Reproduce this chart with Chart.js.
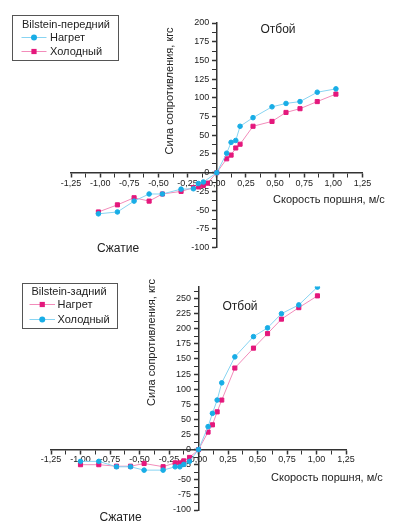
<!DOCTYPE html>
<html>
<head>
<meta charset="utf-8">
<script src="https://cdn.jsdelivr.net/npm/chart.js@4.4.1/dist/chart.umd.min.js"></script>
<style>
  html, body { margin: 0; padding: 0; background: #fff; }
  #wrap { position: relative; width: 396px; height: 532px; }
  canvas { position: absolute; left: 0; }
</style>
</head>
<body>
<div id="wrap">
  <canvas id="front" width="396" height="265" style="top:0"></canvas>
  <canvas id="rear" width="396" height="267" style="top:265px"></canvas>
</div>
<script>
// --- data (speed m/s, force kgf) ---
const frontSpeed = [-1.015, -0.852, -0.709, -0.58, -0.466, -0.306, -0.2, -0.158, -0.115, -0.08, 0,
  0.085, 0.123, 0.163, 0.2, 0.311, 0.474, 0.594, 0.714, 0.862, 1.022];
const frontHot = [-55, -52.5, -38, -28.5, -28.5, -22, -21.5, -14.5, -12.5, null, 0,
  26, 40.5, 43, 62, 73.5, 88, 92.5, 95, 107.5, 112];
const frontCold = [-52.5, -43, -33.5, -38, -28.5, -25, -20, -19, -17, -14, 0,
  18.5, 23.5, 33, 38, 62, 68.5, 80.5, 85.5, 95, 105];

const rearSpeed = [-1.0, -0.845, -0.695, -0.576, -0.461, -0.3, -0.198, -0.158, -0.125, -0.076, 0,
  0.081, 0.118, 0.158, 0.197, 0.308, 0.466, 0.585, 0.703, 0.85, 1.008];
const rearHot = [-25, -25, -27.5, -27.5, -23, -28.3, -22, -22, -18.7, -13, 0,
  29, 41, 62.5, 82, 135, 168, 192, 216, 235, 254.5];
const rearCold = [-19.5, -19.5, -28.5, -28.5, -34, -34, -28.5, -28.5, -24.5, -19.5, 0,
  38, 60, 82, 110.5, 153.5, 187, 201.5, 225, 239.5, 269];

const seriesNames = ['Нагрет', 'Холодный'];
const xTitle = 'Скорость поршня, м/с';
const yTitle = 'Сила сопротивления, кгс';

const BLUE = '#18ade6';
const BLUE_LINE = '#88d4f2';
const PINK = '#e4187c';
const PINK_LINE = '#f28cba';
const FONT = "'Liberation Sans', Arial, sans-serif";

function series(label, xs, ys, color, lineColor, style, order) {
  const data = [];
  xs.forEach((x, i) => {
    if (ys[i] !== null) data.push({ x, y: ys[i] });
  });
  return {
    label,
    data,
    order,
    borderColor: lineColor,
    backgroundColor: color,
    borderWidth: 1,
    pointStyle: style,
    pointRadius: style === 'rect' ? 2.9 : 2.3,
    pointBackgroundColor: color,
    pointBorderColor: color,
    pointBorderWidth: 1,
    tension: 0,
  };
}

const isMajor = (v, step) => Math.abs(v / step - Math.round(v / step)) < 1e-6;

function scales(yMax) {
  return {
    x: {
      type: 'linear',
      min: -1.25,
      max: 1.25,
      position: { y: 0 },
      afterFit: (s) => { s.height = 0; },
      border: { color: '#333', width: 1.5 },
      grid: {
        drawOnChartArea: false,
        tickLength: 4,
        tickColor: '#333',
        tickWidth: (c) => (isMajor(c.tick.value, 0.25) ? 1.5 : 1),
      },
      ticks: {
        stepSize: 0.125,
        autoSkip: false,
        maxRotation: 0,
        padding: 1,
        color: '#222',
        font: { family: FONT, size: 9 },
        callback: (v) => (isMajor(v, 0.25) ? v.toFixed(2).replace('.', ',') : ''),
      },
    },
    y: {
      type: 'linear',
      min: -100,
      max: yMax,
      position: { x: 0 },
      afterFit: (s) => { s.width = 0; },
      border: { color: '#333', width: 1.5 },
      grid: {
        drawOnChartArea: false,
        tickLength: 4,
        tickColor: '#333',
        tickWidth: (c) => (isMajor(c.tick.value, 25) ? 1.5 : 1),
      },
      ticks: {
        stepSize: 12.5,
        includeBounds: false,
        autoSkip: false,
        color: '#222',
        font: { family: FONT, size: 9 },
        // labels sit right on the axis, trailing spaces keep them clear of the tick marks
        callback: (v) => (isMajor(v, 25) ? `${v}   ` : ''),
      },
    },
  };
}

function drawMarker(ctx, style, x, y, color) {
  ctx.fillStyle = color;
  if (style === 'rect') {
    ctx.fillRect(x - 2.6, y - 2.6, 5.2, 5.2);
  } else {
    ctx.beginPath();
    ctx.arc(x, y, 3, 0, Math.PI * 2);
    ctx.fill();
  }
}

// legend box and free texts, drawn on top of the chart
function notesPlugin(n) {
  return {
    id: 'notes',
    afterDraw(chart) {
      const { ctx } = chart;
      ctx.save();
      ctx.fillStyle = '#fff';
      ctx.fillRect(n.box.x, n.box.y, n.box.w, n.box.h);
      ctx.strokeStyle = '#555';
      ctx.lineWidth = 1;
      ctx.strokeRect(n.box.x + 0.5, n.box.y + 0.5, n.box.w, n.box.h);

      ctx.font = `11px ${FONT}`;
      ctx.fillStyle = '#222';
      ctx.textBaseline = 'middle';
      ctx.textAlign = 'left';
      ctx.fillText(n.title, n.titleX, n.titleY);

      n.items.forEach((it) => {
        ctx.strokeStyle = it.line;
        ctx.beginPath();
        ctx.moveTo(n.lineX1, it.y);
        ctx.lineTo(n.lineX2, it.y);
        ctx.stroke();
        drawMarker(ctx, it.style, (n.lineX1 + n.lineX2) / 2, it.y, it.color);
        ctx.fillStyle = '#222';
        ctx.fillText(it.label, n.textX, it.y);
      });

      ctx.font = `12px ${FONT}`;
      ctx.textAlign = 'center';
      ctx.fillText('Отбой', n.rebound[0], n.rebound[1]);
      ctx.fillText('Сжатие', n.bump[0], n.bump[1]);

      ctx.font = `11px ${FONT}`;
      ctx.textAlign = 'left';
      ctx.fillText(xTitle, n.xTitle[0], n.xTitle[1]);

      ctx.translate(n.yTitle[0], n.yTitle[1]);
      ctx.rotate(-Math.PI / 2);
      ctx.textAlign = 'center';
      ctx.fillText(yTitle, 0, 0);
      ctx.restore();
    },
  };
}

function makeChart(id, datasets, yMax, padding, notes) {
  return new Chart(document.getElementById(id), {
    type: 'line',
    data: { datasets },
    options: {
      responsive: false,
      animation: false,
      devicePixelRatio: 1,
      layout: { padding },
      plugins: { legend: { display: false }, tooltip: { enabled: false } },
      scales: scales(yMax),
    },
    plugins: [notesPlugin(notes)],
  });
}

makeChart('front', [
  series(seriesNames[0], frontSpeed, frontHot, BLUE, BLUE_LINE, 'circle', 0),
  series(seriesNames[1], frontSpeed, frontCold, PINK, PINK_LINE, 'rect', 1),
], 200, { left: 71, right: 33.5, top: 23, bottom: 17.5 }, {
  box: { x: 12, y: 15, w: 106, h: 45 },
  title: 'Bilstein-передний',
  titleX: 22,
  titleY: 24.5,
  lineX1: 21.5,
  lineX2: 46.5,
  textX: 50,
  items: [
    { label: seriesNames[0], color: BLUE, line: BLUE_LINE, style: 'circle', y: 37.5 },
    { label: seriesNames[1], color: PINK, line: PINK_LINE, style: 'rect', y: 51.5 },
  ],
  rebound: [278, 29.5],
  bump: [118, 248.5],
  xTitle: [273, 199.5],
  yTitle: [170, 91],
});

makeChart('rear', [
  series(seriesNames[1], rearSpeed, rearCold, BLUE, BLUE_LINE, 'circle', 0),
  series(seriesNames[0], rearSpeed, rearHot, PINK, PINK_LINE, 'rect', 1),
], 270, { left: 51, right: 50, top: 21.5, bottom: 22 }, {
  box: { x: 22, y: 18, w: 95, h: 45 },
  title: 'Bilstein-задний',
  titleX: 31.5,
  titleY: 27,
  lineX1: 29.5,
  lineX2: 55,
  textX: 57.5,
  items: [
    { label: seriesNames[0], color: PINK, line: PINK_LINE, style: 'rect', y: 39.5 },
    { label: seriesNames[1], color: BLUE, line: BLUE_LINE, style: 'circle', y: 54.5 },
  ],
  rebound: [240, 41.5],
  bump: [120.5, 252.5],
  xTitle: [271, 212.5],
  yTitle: [152, 77.5],
});
</script>
</body>
</html>
